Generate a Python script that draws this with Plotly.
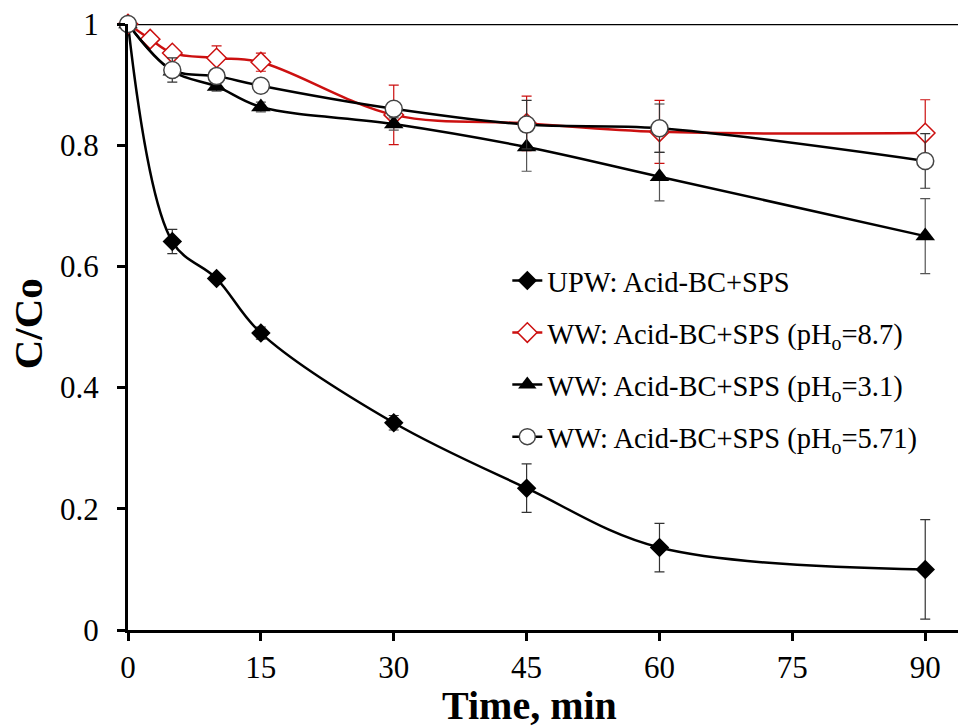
import plotly.graph_objects as go

# ---- data ----
t_upw = [0, 5, 10, 15, 30, 45, 60, 90]
c_upw = [1.0, 0.641, 0.580, 0.490, 0.342, 0.234, 0.136, 0.100]
e_upw = [0.0, 0.020, 0.006, 0.010, 0.012, 0.040, 0.040, 0.082]

t_87 = [0, 2.5, 5, 10, 15, 30, 45, 60, 90]
c_87 = [1.0, 0.975, 0.952, 0.944, 0.937, 0.850, 0.836, 0.822, 0.820]
e_87 = [0.0, 0.006, 0.008, 0.020, 0.015, 0.049, 0.045, 0.052, 0.055]

t_31 = [0, 5, 10, 15, 30, 45, 60, 90]
c_31 = [1.0, 0.922, 0.897, 0.863, 0.835, 0.797, 0.748, 0.650]
e_31 = [0.0, 0.010, 0.008, 0.008, 0.010, 0.040, 0.040, 0.062]

t_571 = [0, 5, 10, 15, 30, 45, 60, 90]
c_571 = [1.0, 0.924, 0.914, 0.898, 0.860, 0.834, 0.828, 0.774]
e_571 = [0.0, 0.020, 0.008, 0.008, 0.008, 0.040, 0.040, 0.045]

names = ["UPW: Acid-BC+SPS",
         "WW: Acid-BC+SPS (pH<sub>o</sub>=8.7)",
         "WW: Acid-BC+SPS (pH<sub>o</sub>=3.1)",
         "WW: Acid-BC+SPS (pH<sub>o</sub>=5.71)"]

x_ticks = [0, 15, 30, 45, 60, 75, 90]
y_ticks = [0, 0.2, 0.4, 0.6, 0.8, 1]

SERIF = "Liberation Serif, Times New Roman, serif"
RED = "#cc1010"

fig = go.Figure()

def add(tx, cy, ey, name, marker, lcolor, ecolor, grp):
    fig.add_trace(go.Scatter(
        x=tx, y=cy, name=name, mode="lines+markers",
        line=dict(color=lcolor, width=2.5, shape="spline", smoothing=1.0),
        marker=marker,
        error_y=dict(type="data", array=ey, visible=True, color=ecolor,
                     thickness=1.2, width=5),
        legendgroup=grp, cliponaxis=False))

add(t_upw, c_upw, e_upw, names[0],
    dict(symbol="diamond", size=15, color="black"), "black", "#333333", "g1")
add(t_87, c_87, e_87, names[1],
    dict(symbol="diamond", size=15, color="white", line=dict(color=RED, width=1.5)),
    RED, RED, "g2")
add(t_31, c_31, e_31, names[2],
    dict(symbol="triangle-up", size=17, color="black"), "black", "#555555", "g3")
add(t_571, c_571, e_571, names[3],
    dict(symbol="circle", size=17, color="white", line=dict(color="#444444", width=1.5)),
    "black", "#333333", "g4")

fig.add_shape(type="line", xref="paper", yref="y", x0=0, x1=1, y0=1, y1=1,
              line=dict(color="black", width=2.5), layer="below")

fig.update_layout(
    width=958, height=727,
    margin=dict(l=128, r=0, t=24, b=97),
    paper_bgcolor="white", plot_bgcolor="white",
    font=dict(family=SERIF, color="black", size=31),
    showlegend=True,
    legend=dict(x=0.457, y=0.618, xanchor="left", yanchor="top",
                font=dict(family=SERIF, size=28.5, color="black"),
                bgcolor="rgba(0,0,0,0)", tracegroupgap=12,
                traceorder="grouped"),
    xaxis=dict(range=[0, 93.7], tickvals=x_ticks, ticktext=[str(v) for v in x_ticks],
               showgrid=False, zeroline=False, showline=True, linecolor="black",
               linewidth=3, ticks="outside", ticklen=8, tickwidth=3, tickcolor="black",
               tickfont=dict(family=SERIF, size=31)),
    yaxis=dict(range=[0, 1], tickvals=y_ticks, ticktext=["0", "0.2", "0.4", "0.6", "0.8", "1"],
               showgrid=False, zeroline=False, showline=True, linecolor="black",
               linewidth=3, ticks="outside", ticklen=8, tickwidth=3, tickcolor="black",
               ticklabelstandoff=12,
               tickfont=dict(family=SERIF, size=31)),
    annotations=[
        dict(text="<b>Time, min</b>", xref="paper", yref="paper", x=0.484, y=-0.124,
             xanchor="center", yanchor="middle", showarrow=False,
             font=dict(family=SERIF, size=40, color="black")),
        dict(text="<b>C/Co</b>", xref="paper", yref="paper", x=-0.12, y=0.505,
             xanchor="center", yanchor="middle", showarrow=False, textangle=-90,
             font=dict(family=SERIF, size=41, color="black")),
    ],
)

fig.write_html("out.html")
